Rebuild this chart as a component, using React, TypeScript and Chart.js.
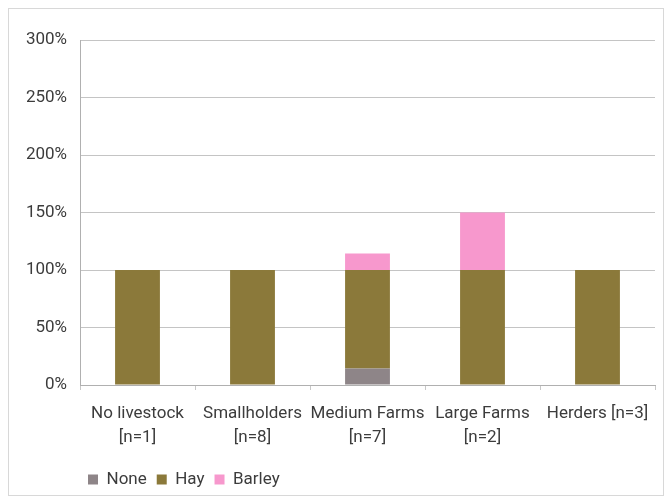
import React, { useEffect, useRef } from "react";
import { Chart, registerables } from "chart.js";

Chart.register(...registerables);

const categories: (string | string[])[] = [
  ["No livestock", "[n=1]"],
  ["Smallholders", "[n=8]"],
  ["Medium Farms", "[n=7]"],
  ["Large Farms", "[n=2]"],
  "Herders [n=3]",
];
const noneValues = [0, 0, 14.3, 0, 0];
const hayValues = [100, 100, 85.7, 100, 100];
const barleyValues = [0, 0, 14.3, 50, 0];
const yTicks = [0, 50, 100, 150, 200, 250, 300];

const legendShift = {
  id: "legendShift",
  afterLayout(chart: any) {
    if (chart.legend) {
      chart.legend.left = 78;
    }
  },
};

export default function App() {
  const ref = useRef<HTMLCanvasElement | null>(null);
  useEffect(() => {
    if (!ref.current) return;
    const family = "Roboto, 'Open Sans', sans-serif";
    const chart = new Chart(ref.current, {
      type: "bar",
      data: {
        labels: categories,
        datasets: [
          { label: "None", data: noneValues, backgroundColor: "#8e8588" },
          { label: "Hay", data: hayValues, backgroundColor: "#8b793a" },
          { label: "Barley", data: barleyValues, backgroundColor: "#f798cd" },
        ],
      },
      plugins: [legendShift],
      options: {
        animation: false,
        responsive: false,
        maintainAspectRatio: false,
        layout: { padding: { left: 0, right: 14, top: 40, bottom: 2 } },
        datasets: { bar: { categoryPercentage: 1, barPercentage: 0.39 } },
        plugins: {
          tooltip: { enabled: false },
          legend: {
            position: "bottom",
            align: "start",
            labels: {
              boxWidth: 10,
              boxHeight: 10,
              padding: 10,
              color: "#3c3c3c",
              font: { family, size: 17 },
            },
          },
        },
        scales: {
          x: {
            stacked: true,
            grid: {
              offset: true,
              drawOnChartArea: false,
              tickLength: 5,
              color: "#c8c8c8",
            },
            border: { color: "#b0b0b0" },
            ticks: {
              color: "#3c3c3c",
              font: { family, size: 17, lineHeight: 1.45 },
              maxRotation: 0,
              autoSkip: false,
              padding: 11,
            },
            afterFit: (s: any) => {
              s.height = 76;
            },
          },
          y: {
            stacked: true,
            min: 0,
            max: 300,
            afterBuildTicks: (axis: any) => {
              axis.ticks = yTicks.map((v) => ({ value: v }));
            },
            afterFit: (s: any) => {
              s.width = 80;
            },
            grid: { color: "#c4c4c4", drawTicks: false },
            border: { color: "#b0b0b0" },
            ticks: {
              color: "#3c3c3c",
              font: { family, size: 17 },
              padding: 13,
              callback: (v: any) => v + "%",
            },
          },
        },
      },
    });
    return () => chart.destroy();
  }, []);
  return (
    <div style={{ position: "absolute", left: 0, top: 0, width: 669, height: 500, background: "#fff" }}>
      <div
        style={{
          position: "absolute",
          left: 8,
          top: 8,
          width: 656,
          height: 488,
          border: "1px solid #d8d8d8",
          boxSizing: "border-box",
        }}
      />
      <canvas ref={ref} width={669} height={500} style={{ position: "absolute", left: 0, top: 0 }} />
    </div>
  );
}
